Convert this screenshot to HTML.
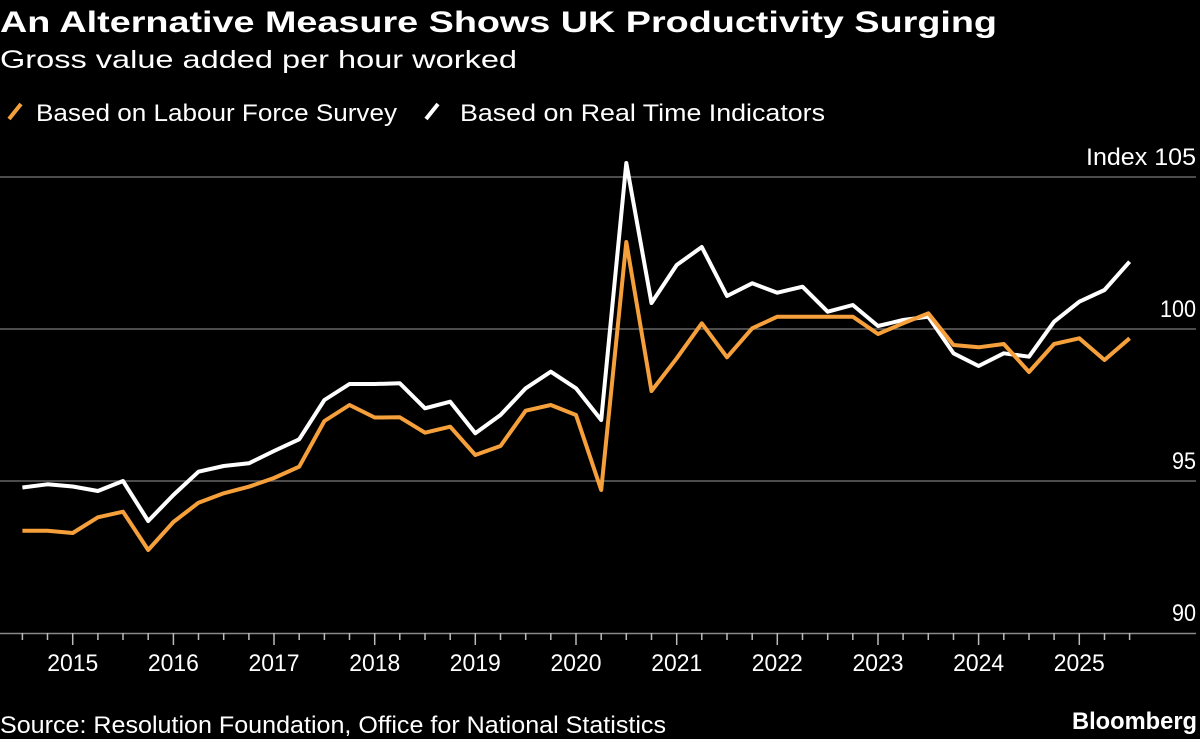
<!DOCTYPE html>
<html><head><meta charset="utf-8"><style>
html,body{margin:0;padding:0;background:#000;}
svg{display:block;}
text{font-family:"Liberation Sans",sans-serif;fill:#fff;}
</style></head><body>
<svg width="1200" height="739" viewBox="0 0 1200 739" xmlns="http://www.w3.org/2000/svg">
<rect width="1200" height="739" fill="#000"/>
<text x="0" y="32" font-size="30" font-weight="bold" textLength="997" lengthAdjust="spacingAndGlyphs">An Alternative Measure Shows UK Productivity Surging</text>
<text x="0" y="68" font-size="25" textLength="517" lengthAdjust="spacingAndGlyphs">Gross value added per hour worked</text>
<line x1="9" y1="119" x2="21" y2="104" stroke="#f6a03c" stroke-width="4"/>
<text x="36" y="121" font-size="24" textLength="361" lengthAdjust="spacingAndGlyphs">Based on Labour Force Survey</text>
<line x1="426" y1="119" x2="438" y2="104" stroke="#fff" stroke-width="4"/>
<text x="460" y="121" font-size="24" textLength="365" lengthAdjust="spacingAndGlyphs">Based on Real Time Indicators</text>
<g stroke="#666" stroke-width="1.5">
<line x1="0" y1="177" x2="1196" y2="177"/>
<line x1="0" y1="329" x2="1196" y2="329"/>
<line x1="0" y1="481" x2="1196" y2="481"/>
</g>
<line x1="0" y1="633.5" x2="1196" y2="633.5" stroke="#888" stroke-width="1.5"/>
<g font-size="24" text-anchor="end">
<text x="1196" y="165" textLength="110" lengthAdjust="spacingAndGlyphs">Index 105</text>
<text x="1196" y="317" textLength="36" lengthAdjust="spacingAndGlyphs">100</text>
<text x="1196" y="469" textLength="24" lengthAdjust="spacingAndGlyphs">95</text>
<text x="1196" y="621" textLength="24" lengthAdjust="spacingAndGlyphs">90</text>
</g>
<path stroke="#bbb" stroke-width="1.5" fill="none" d="M22.4 633V640M47.5 633V640M97.9 633V640M123 633V640M148.2 633V640M198.5 633V640M223.7 633V640M248.9 633V640M299.2 633V640M324.4 633V640M349.5 633V640M399.8 633V640M425 633V640M450.2 633V640M500.5 633V640M525.7 633V640M550.8 633V640M601.2 633V640M626.3 633V640M651.5 633V640M701.8 633V640M727 633V640M752.2 633V640M802.5 633V640M827.7 633V640M852.8 633V640M903.1 633V640M928.3 633V640M953.5 633V640M1003.8 633V640M1029 633V640M1054.1 633V640M1104.5 633V640M1129.6 633V640M72.7 633V645M173.4 633V645M274 633V645M374.7 633V645M475.3 633V645M576 633V645M676.7 633V645M777.3 633V645M878 633V645M978.6 633V645M1079.3 633V645"/>
<g font-size="24" text-anchor="middle">
<text x="72.7" y="671" textLength="51" lengthAdjust="spacingAndGlyphs">2015</text>
<text x="173.4" y="671" textLength="51" lengthAdjust="spacingAndGlyphs">2016</text>
<text x="274.0" y="671" textLength="51" lengthAdjust="spacingAndGlyphs">2017</text>
<text x="374.7" y="671" textLength="51" lengthAdjust="spacingAndGlyphs">2018</text>
<text x="475.3" y="671" textLength="51" lengthAdjust="spacingAndGlyphs">2019</text>
<text x="576.0" y="671" textLength="51" lengthAdjust="spacingAndGlyphs">2020</text>
<text x="676.7" y="671" textLength="51" lengthAdjust="spacingAndGlyphs">2021</text>
<text x="777.3" y="671" textLength="51" lengthAdjust="spacingAndGlyphs">2022</text>
<text x="878.0" y="671" textLength="51" lengthAdjust="spacingAndGlyphs">2023</text>
<text x="978.6" y="671" textLength="51" lengthAdjust="spacingAndGlyphs">2024</text>
<text x="1079.3" y="671" textLength="51" lengthAdjust="spacingAndGlyphs">2025</text>
</g>
<polyline fill="none" stroke="#fff" stroke-width="4" stroke-linejoin="round" points="22.4,487.5 47.5,484.3 72.7,486.5 97.9,491 123.0,481 148.2,521 173.4,495 198.5,471.7 223.7,466 248.9,463.3 274.0,451 299.2,439.3 324.4,400 349.5,384 374.7,384 399.8,383.3 425.0,408.3 450.2,401.7 475.3,433.3 500.5,415 525.7,388.3 550.8,371.7 576.0,388.3 601.2,420 626.3,163 651.5,303 676.7,265 701.8,247 727.0,296 752.2,283.3 777.3,292.7 802.5,286.7 827.7,311.7 852.8,305 878.0,326 903.1,320 928.3,316.7 953.5,353.3 978.6,366 1003.8,353.3 1029.0,356.7 1054.1,321.7 1079.3,301.7 1104.5,290 1129.6,261.7"/>
<polyline fill="none" stroke="#f6a03c" stroke-width="4" stroke-linejoin="round" points="22.4,530.7 47.5,530.7 72.7,533 97.9,517.3 123.0,511.7 148.2,550 173.4,522 198.5,502.7 223.7,493.3 248.9,486.7 274.0,478 299.2,466.7 324.4,421 349.5,405 374.7,417.5 399.8,417.3 425.0,432.7 450.2,426.7 475.3,455 500.5,446 525.7,410.7 550.8,405 576.0,415 601.2,490 626.3,242 651.5,391 676.7,358.3 701.8,323.3 727.0,357.3 752.2,328.3 777.3,316.7 802.5,316.7 827.7,316.7 852.8,316.7 878.0,334 903.1,323.3 928.3,313.3 953.5,345 978.6,347.3 1003.8,344 1029.0,372 1054.1,344 1079.3,338.3 1104.5,360 1129.6,338.3"/>
<text x="0" y="733" font-size="24" textLength="666" lengthAdjust="spacingAndGlyphs">Source: Resolution Foundation, Office for National Statistics</text>
<text x="1197" y="729" font-size="24" font-weight="bold" text-anchor="end" textLength="125" lengthAdjust="spacingAndGlyphs">Bloomberg</text>
</svg>
</body></html>
